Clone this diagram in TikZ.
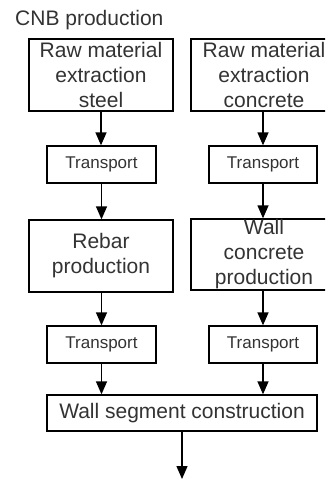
\documentclass[tikz,border=0pt]{standalone}
\usepackage{fontspec}
\setmainfont{Liberation Sans}
\usetikzlibrary{arrows.meta}
\definecolor{txt}{HTML}{333333}
\tikzset{
  stagebox/.style={draw=black, line width=1.3pt, inner sep=0pt, text=txt,
    align=center, font=\fontsize{21}{25}\selectfont},
  bigbox/.style={stagebox, minimum width=144pt, minimum height=72pt},
  transportbox/.style={stagebox, minimum width=109pt, minimum height=37pt,
    font=\fontsize{17}{20}\selectfont},
  flow/.style={draw=black, line width=1.3pt, -{Triangle[width=11pt,length=13pt]}}
}
\begin{document}
\begin{tikzpicture}[x=1pt, y=-1pt]
  \clip (0,0) rectangle (325,479);
  \fill[white] (0,0) rectangle (325,479);

  \node[anchor=base west, text=txt, font=\fontsize{21}{25}\selectfont, inner sep=0pt]
    (title) at (15,25) {CNB production};

  % steel branch
  \node[bigbox] (rawsteel) at (101,75) {Raw material\\extraction\\steel};
  \node[transportbox] (tr1) at (101.5,164.5) {Transport};
  \node[bigbox] (rebar) at (101,256) {Rebar\\production};
  \node[transportbox] (tr3) at (101.5,344.5) {Transport};

  % concrete branch
  \node[bigbox, minimum width=146pt] (rawconc) at (264,75) {Raw material\\extraction\\concrete};
  \node[transportbox, minimum width=108pt] (tr2) at (263,164.5) {Transport};
  % the text of this stage is taller than its frame and runs over the edges
  \node[bigbox, minimum width=146pt, minimum height=71pt] (wallconc) at (264,254.5) {};
  \node[stagebox, draw=none] (wallconctext) at (wallconc.center) {Wall\\concrete\\production};
  \node[transportbox, minimum width=108pt] (tr4) at (263,344.5) {Transport};

  % assembly
  \node[stagebox, minimum width=270pt, minimum height=36pt] (wallseg) at (182,413)
    {Wall segment construction};
  \coordinate (out) at (182,479);

  \draw[flow] (rawsteel.south) -- (rawsteel.south |- tr1.north);
  \draw[flow] (tr2.north |- rawconc.south) -- (tr2.north);
  \draw[flow] (tr1.south) -- (tr1.south |- rebar.north);
  \draw[flow] (tr2.south) -- (tr2.south |- wallconc.north);
  \draw[flow] (tr3.north |- rebar.south) -- (tr3.north);
  \draw[flow] (tr4.north |- wallconc.south) -- (tr4.north);
  \draw[flow] (tr3.south) -- (tr3.south |- wallseg.north);
  \draw[flow] (tr4.south) -- (tr4.south |- wallseg.north);
  \draw[flow] (wallseg.south) -- (out);
\end{tikzpicture}
\end{document}
